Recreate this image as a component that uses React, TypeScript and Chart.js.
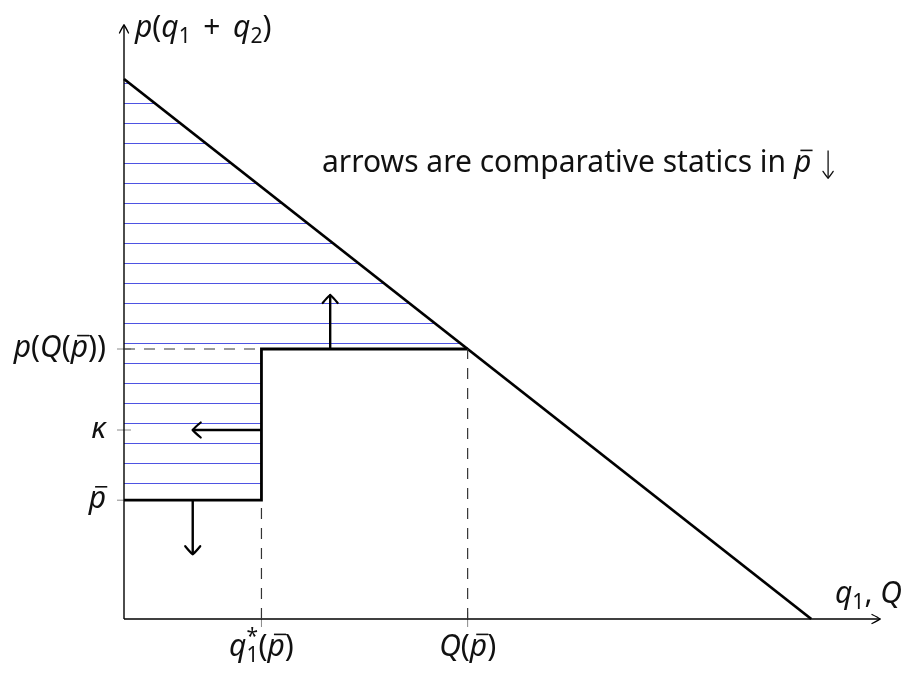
import React, { useEffect, useRef } from "react";
import { Chart, registerables } from "chart.js";

Chart.register(...registerables);

// Inverse demand p = 10 - Q
const demandQ = [0, 10];
const demandP = [10, 0];

// Price-capped residual step: p̄ up to q1*, then p(Q(p̄)) up to Q(p̄)
const stepQ = [0, 2, 2, 5];
const stepP = [2.2, 2.2, 5, 5];

// Hatched surplus region (left of demand, above the step)
const hatchQ = [0, 5, 2, 2, 0];
const hatchP = [10, 5, 5, 2.2, 2.2];

// Dashed guide lines
const guideAQ = [2, 2];
const guideAP = [0, 2.2];
const guideBQ = [5, 5];
const guideBP = [0, 5];
const guideCQ = [0, 2];
const guideCP = [5, 5];

// Comparative-statics arrows (start -> tip)
const arrowUpQ = [3, 3];
const arrowUpP = [5, 6];
const arrowLeftQ = [2, 1];
const arrowLeftP = [3.5, 3.5];
const arrowDownQ = [1, 1];
const arrowDownP = [2.2, 1.2];

// Axes
const axisMax = 11;
const xAxisQ = [0, axisMax];
const xAxisP = [0, 0];
const yAxisQ = [0, 0];
const yAxisP = [0, axisMax];

// Tick values and labels
const xTickValues = [2, 5];
const xTickLabels = ["q₁*(p̄)", "Q(p̄)"];
const yTickValues = [2.2, 3.5, 5];
const yTickLabels = ["p̄", "κ", "p(Q(p̄))"];
const xAxisLabel = "q₁, Q";
const yAxisLabel = "p(q₁ + q₂)";
const noteText = "arrows are comparative statics in";
const noteMath = "p̄ ↓";

const FONT = '"Noto Sans", "DejaVu Sans", sans-serif';
const MATH_SIZE = 30;
const TEXT_COLOR = "#111";
const HATCH_COLOR = "rgb(78, 84, 226)";

const pts = (xs: number[], ys: number[]) => xs.map((x, i) => ({ x, y: ys[i] }));

type Run = { text: string; italic: boolean; kind: "base" | "sub" | "sup" | "arrow"; bar: boolean };
const SUBS = "₀₁₂₃₄₅₆₇₈₉";

function parseMath(s: string): Run[] {
  const chars = Array.from(s);
  const runs: Run[] = [];
  for (let i = 0; i < chars.length; i++) {
    const c = chars[i];
    if (c === "\u0304") continue;
    const bar = chars[i + 1] === "\u0304";
    const si = SUBS.indexOf(c);
    if (si >= 0) {
      runs.push({ text: String(si), italic: false, kind: "sub", bar: false });
      continue;
    }
    if (c === "*" && runs.length && runs[runs.length - 1].kind === "sub") {
      runs.push({ text: "*", italic: false, kind: "sup", bar: false });
      continue;
    }
    if (c === "↓") {
      runs.push({ text: c, italic: false, kind: "arrow", bar: false });
      continue;
    }
    runs.push({ text: c, italic: /[A-Za-zκ]/.test(c), kind: "base", bar });
  }
  return runs;
}

function fontFor(r: Run, size: number) {
  const sz = r.kind === "sub" || r.kind === "sup" ? size * 0.7 : size;
  return `${r.italic ? "italic " : ""}${sz}px ${FONT}`;
}

function layoutMath(ctx: CanvasRenderingContext2D, runs: Run[], size: number) {
  let x = 0;
  let asc = 0;
  let desc = 0;
  let lastSubX = 0;
  let lastSubW = 0;
  const placed: { r: Run; x: number; dy: number; w: number }[] = [];
  for (const r of runs) {
    ctx.font = fontFor(r, size);
    if (r.kind === "arrow") {
      const w = size * 0.6;
      placed.push({ r, x, dy: 0, w });
      x += w;
      continue;
    }
    const m = ctx.measureText(r.text);
    const w = m.width;
    if (r.kind === "base") {
      // binary operators get a little extra room on both sides
      const pad = r.text === "+" ? size * 0.16 : 0;
      placed.push({ r, x: x + pad, dy: 0, w });
      let a = m.actualBoundingBoxAscent;
      if (r.bar) a = Math.max(a, size * 0.78);
      asc = Math.max(asc, a);
      desc = Math.max(desc, m.actualBoundingBoxDescent);
      x += w + pad * 2;
    } else if (r.kind === "sub") {
      const dy = size * 0.2;
      placed.push({ r, x, dy, w });
      desc = Math.max(desc, m.actualBoundingBoxDescent + dy);
      lastSubX = x;
      lastSubW = w;
      x += w;
    } else {
      const dy = -size * 0.42;
      placed.push({ r, x: lastSubX, dy, w });
      asc = Math.max(asc, m.actualBoundingBoxAscent - dy);
      x += Math.max(0, w - lastSubW);
    }
  }
  return { placed, width: x, asc, desc };
}

function drawArrowHead(
  ctx: CanvasRenderingContext2D,
  fx: number,
  fy: number,
  tx: number,
  ty: number,
  len: number,
  half: number,
  lw: number,
  color = "#000"
) {
  const d = Math.hypot(tx - fx, ty - fy) || 1;
  const ux = (tx - fx) / d;
  const uy = (ty - fy) / d;
  const nx = -uy;
  const ny = ux;
  ctx.save();
  ctx.strokeStyle = color;
  ctx.lineWidth = lw;
  ctx.lineCap = "round";
  ctx.lineJoin = "round";
  for (const sgn of [1, -1]) {
    ctx.beginPath();
    ctx.moveTo(tx - ux * len + nx * half * sgn, ty - uy * len + ny * half * sgn);
    ctx.quadraticCurveTo(
      tx - ux * len * 0.25 + nx * half * 0.35 * sgn,
      ty - uy * len * 0.25 + ny * half * 0.35 * sgn,
      tx,
      ty
    );
    ctx.stroke();
  }
  ctx.restore();
}

function drawMath(
  ctx: CanvasRenderingContext2D,
  s: string,
  x: number,
  y: number,
  align: "left" | "center" | "right",
  vAlign: "baseline" | "middle",
  size = MATH_SIZE
) {
  const lay = layoutMath(ctx, parseMath(s), size);
  let x0 = x;
  if (align === "center") x0 = x - lay.width / 2;
  if (align === "right") x0 = x - lay.width;
  let base = y;
  if (vAlign === "middle") base = y + (lay.asc - lay.desc) / 2;
  ctx.save();
  ctx.fillStyle = TEXT_COLOR;
  ctx.strokeStyle = TEXT_COLOR;
  ctx.textBaseline = "alphabetic";
  ctx.textAlign = "left";
  for (const p of lay.placed) {
    if (p.r.kind === "arrow") {
      const ax = x0 + p.x + p.w / 2;
      const top = base - size * 0.72;
      const tip = base + size * 0.2;
      ctx.lineWidth = 1.3;
      ctx.beginPath();
      ctx.moveTo(ax, top);
      ctx.lineTo(ax, tip);
      ctx.stroke();
      drawArrowHead(ctx, ax, top, ax, tip, size * 0.22, size * 0.17, 1.3, TEXT_COLOR);
      continue;
    }
    ctx.font = fontFor(p.r, size);
    ctx.fillText(p.r.text, x0 + p.x, base + p.dy);
    if (p.r.bar) {
      const by = base - size * 0.72;
      const shift = p.r.italic ? size * 0.1 : 0;
      ctx.lineWidth = 1.6;
      ctx.beginPath();
      ctx.moveTo(x0 + p.x + p.w * 0.2 + shift, by);
      ctx.lineTo(x0 + p.x + p.w * 0.9 + shift, by);
      ctx.stroke();
    }
  }
  ctx.restore();
  return lay.width;
}

const diagramPlugin = {
  id: "diagram",
  beforeDatasetsDraw(chart: any) {
    const { ctx, scales } = chart;
    const xs = scales.x;
    const ys = scales.y;
    // hatch pattern: thin horizontal lines every 20px
    const tile = document.createElement("canvas");
    tile.width = 8;
    tile.height = 20;
    const tctx = tile.getContext("2d")!;
    tctx.fillStyle = HATCH_COLOR;
    tctx.fillRect(0, 3, 8, 1);
    const pattern = ctx.createPattern(tile, "repeat");
    ctx.save();
    ctx.beginPath();
    hatchQ.forEach((q, i) => {
      const px = xs.getPixelForValue(q);
      const py = ys.getPixelForValue(hatchP[i]);
      if (i === 0) ctx.moveTo(px, py);
      else ctx.lineTo(px, py);
    });
    ctx.closePath();
    ctx.fillStyle = pattern;
    ctx.fill();
    ctx.restore();

    // tick marks
    const x0 = xs.getPixelForValue(0);
    const y0 = ys.getPixelForValue(0);
    ctx.save();
    ctx.strokeStyle = "#8a8a8a";
    ctx.lineWidth = 1;
    yTickValues.forEach((v) => {
      const py = ys.getPixelForValue(v);
      ctx.beginPath();
      ctx.moveTo(x0 - 7, py);
      ctx.lineTo(x0 + 7, py);
      ctx.stroke();
    });
    xTickValues.forEach((v) => {
      const px = xs.getPixelForValue(v);
      ctx.beginPath();
      ctx.moveTo(px, y0 - 7);
      ctx.lineTo(px, y0 + 8);
      ctx.stroke();
    });
    ctx.restore();
  },
  afterDatasetsDraw(chart: any) {
    const { ctx, scales } = chart;
    const xs = scales.x;
    const ys = scales.y;
    chart.data.datasets.forEach((ds: any, i: number) => {
      if (!ds.arrowHead) return;
      const meta = chart.getDatasetMeta(i);
      const n = meta.data.length;
      const a = meta.data[n - 2];
      const b = meta.data[n - 1];
      const [len, half, lw] = ds.arrowHead;
      drawArrowHead(ctx, a.x, a.y, b.x, b.y, len, half, lw);
    });

    const x0 = xs.getPixelForValue(0);
    const y0 = ys.getPixelForValue(0);
    yTickValues.forEach((v, i) => {
      drawMath(ctx, yTickLabels[i], x0 - 18, ys.getPixelForValue(v), "right", "middle");
    });
    xTickValues.forEach((v, i) => {
      drawMath(ctx, xTickLabels[i], xs.getPixelForValue(v), y0 + 37, "center", "baseline");
    });
    drawMath(ctx, yAxisLabel, x0 + 11, ys.getPixelForValue(axisMax) + 12, "left", "baseline");
    drawMath(ctx, xAxisLabel, xs.getPixelForValue(axisMax) - 45, y0 - 16, "left", "baseline");

    // note
    ctx.save();
    ctx.font = `${MATH_SIZE}px ${FONT}`;
    ctx.fillStyle = TEXT_COLOR;
    ctx.textBaseline = "alphabetic";
    ctx.textAlign = "left";
    const nx = 322;
    const ny = 172;
    ctx.fillText(noteText, nx, ny);
    const w = ctx.measureText(noteText + " ").width;
    ctx.restore();
    drawMath(ctx, noteMath, nx + w, ny, "left", "baseline");
  },
};

function lineDs(xs: number[], ys: number[], extra: any) {
  return {
    data: pts(xs, ys),
    showLine: true,
    pointRadius: 0,
    pointHoverRadius: 0,
    borderColor: "#000",
    backgroundColor: "transparent",
    borderCapStyle: "butt",
    borderJoinStyle: "miter",
    fill: false,
    clip: false,
    tension: 0,
    ...extra,
  };
}

export default function App() {
  const ref = useRef<HTMLCanvasElement>(null);
  useEffect(() => {
    const canvas = ref.current!;
    const chart = new Chart(canvas, {
      type: "scatter",
      data: {
        datasets: [
          lineDs(guideAQ, guideAP, { borderColor: "#333", borderWidth: 1.2, borderDash: [11, 9] }),
          lineDs(guideBQ, guideBP, { borderColor: "#333", borderWidth: 1.2, borderDash: [11, 9] }),
          lineDs(guideCQ, guideCP, { borderColor: "#333", borderWidth: 1.2, borderDash: [11, 9] }),
          lineDs(xAxisQ, xAxisP, { borderWidth: 1.4, arrowHead: [8, 4.5, 1.3] }),
          lineDs(yAxisQ, yAxisP, { borderWidth: 1.4, arrowHead: [8, 4.5, 1.3] }),
          lineDs(demandQ, demandP, { borderWidth: 2.8 }),
          lineDs(stepQ, stepP, { borderWidth: 2.8 }),
          lineDs(arrowUpQ, arrowUpP, { borderWidth: 2.4, arrowHead: [8, 7.5, 2.2] }),
          lineDs(arrowLeftQ, arrowLeftP, { borderWidth: 2.4, arrowHead: [8, 7.5, 2.2] }),
          lineDs(arrowDownQ, arrowDownP, { borderWidth: 2.4, arrowHead: [8, 7.5, 2.2] }),
        ] as any,
      },
      options: {
        animation: false,
        responsive: false,
        maintainAspectRatio: false,
        events: [],
        layout: { padding: { left: 124, right: 37, top: 25, bottom: 56 } },
        plugins: { legend: { display: false }, tooltip: { enabled: false } },
        scales: {
          x: { type: "linear", min: 0, max: axisMax, display: false },
          y: { type: "linear", min: 0, max: axisMax, display: false },
        },
      },
      plugins: [diagramPlugin],
    });
    return () => chart.destroy();
  }, []);
  return (
    <div style={{ position: "fixed", left: 0, top: 0, width: 917, height: 675, background: "#fff" }}>
      <canvas ref={ref} width={917} height={675} style={{ display: "block" }} />
    </div>
  );
}
